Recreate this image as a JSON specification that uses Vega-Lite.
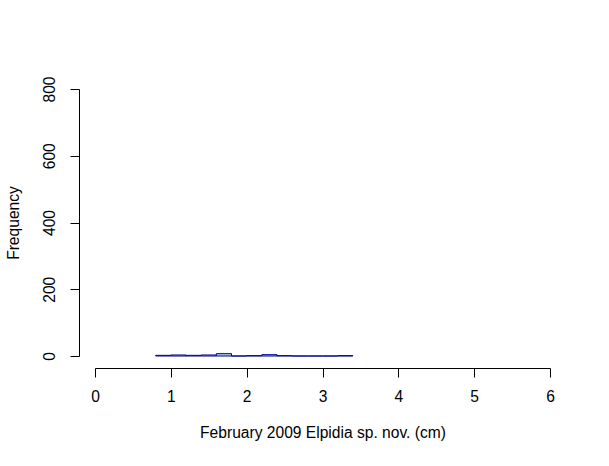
{
  "$schema": "https://vega.github.io/schema/vega-lite/v6.json",
  "width": 455,
  "height": 267,
  "autosize": {"type": "none"},
  "padding": {"left": 95, "top": 89, "right": 59, "bottom": 110},
  "background": "white",
  "config": {
    "view": {"stroke": null},
    "font": "Liberation Sans",
    "axis": {
      "grid": false,
      "domainColor": "black",
      "tickColor": "black",
      "labelColor": "black",
      "titleColor": "black",
      "labelFont": "Liberation Sans",
      "titleFont": "Liberation Sans",
      "labelFontSize": 15.6,
      "titleFontSize": 15.6,
      "titleFontWeight": "normal",
      "tickSize": 9
    }
  },
  "data": {
    "values": [
      {"bin_start": 0.8, "bin_end": 1.0, "count": 2},
      {"bin_start": 1.0, "bin_end": 1.2, "count": 3},
      {"bin_start": 1.2, "bin_end": 1.4, "count": 2},
      {"bin_start": 1.4, "bin_end": 1.6, "count": 3},
      {"bin_start": 1.6, "bin_end": 1.8, "count": 7},
      {"bin_start": 1.8, "bin_end": 2.0, "count": 0},
      {"bin_start": 2.0, "bin_end": 2.2, "count": 1},
      {"bin_start": 2.2, "bin_end": 2.4, "count": 4},
      {"bin_start": 2.4, "bin_end": 2.6, "count": 1},
      {"bin_start": 2.6, "bin_end": 2.8, "count": 0},
      {"bin_start": 2.8, "bin_end": 3.0, "count": 0},
      {"bin_start": 3.0, "bin_end": 3.2, "count": 0},
      {"bin_start": 3.2, "bin_end": 3.4, "count": 1}
    ]
  },
  "mark": {"type": "rect", "fill": "#ADD8E6", "stroke": "#00008B", "strokeWidth": 1},
  "encoding": {
    "x": {
      "field": "bin_start",
      "type": "quantitative",
      "scale": {"domain": [0, 6], "nice": false, "zero": false},
      "axis": {
        "title": "February 2009 Elpidia sp. nov. (cm)",
        "values": [0, 1, 2, 3, 4, 5, 6],
        "offset": 12,
        "labelPadding": 12,
        "titlePadding": 21,
        "labelFlush": false
      }
    },
    "x2": {"field": "bin_end"},
    "y": {
      "field": "count",
      "type": "quantitative",
      "scale": {"domain": [0, 800], "nice": false},
      "axis": {
        "title": "Frequency",
        "values": [0, 200, 400, 600, 800],
        "offset": 16,
        "labelAngle": 270,
        "labelAlign": "center",
        "labelBaseline": "bottom",
        "labelPadding": 13,
        "titlePadding": 21,
        "labelFlush": false
      }
    },
    "y2": {"datum": 0}
  }
}
